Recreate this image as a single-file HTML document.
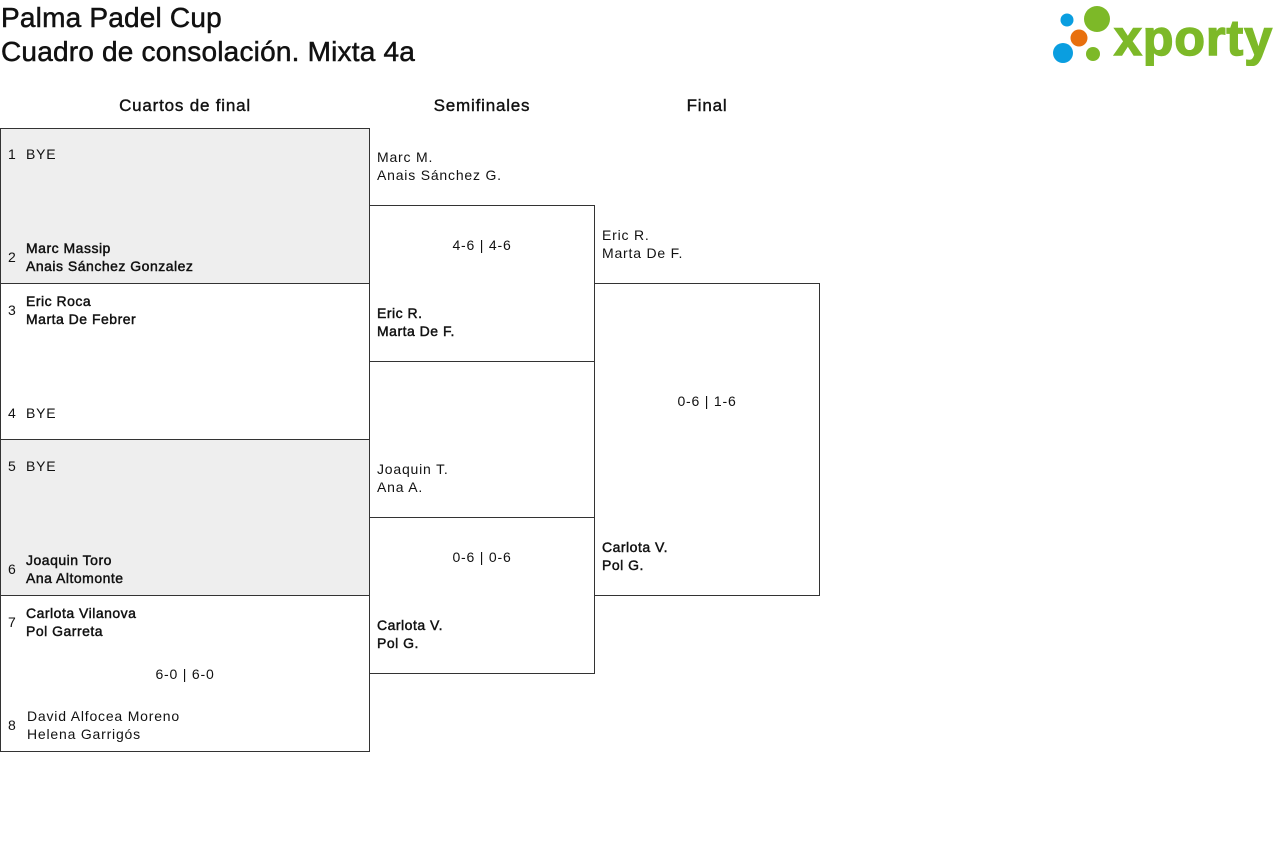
<!DOCTYPE html>
<html><head><meta charset="utf-8"><style>
body{margin:0;width:1280px;height:850px;background:#fff;font-family:"Liberation Sans",sans-serif;color:#111;position:relative;overflow:hidden}
.a{position:absolute}
.t{font-size:28px;line-height:33px;left:1px;white-space:nowrap;-webkit-text-stroke:0.5px #111;letter-spacing:0.2px}
.h{font-size:17px;text-align:center;letter-spacing:0.8px;-webkit-text-stroke:0.4px #111}
.box{position:absolute;border:1px solid #333;box-sizing:border-box}
.g{background:#eee}
.s{position:absolute;font-size:14px;line-height:18px;white-space:nowrap;letter-spacing:0.8px}
.b{-webkit-text-stroke:0.45px #111;letter-spacing:0.5px}
</style></head><body>
<div class="a t" style="top:1px">Palma Padel Cup</div>
<div class="a t" style="top:35px">Cuadro de consolación. Mixta 4a</div>
<svg class="a" style="left:1050px;top:4px" width="226" height="62">
<circle cx="17" cy="16" r="6.5" fill="#0a9ee0"/><circle cx="47" cy="15" r="13" fill="#7db928"/>
<circle cx="29" cy="34" r="8.5" fill="#e8700e"/><circle cx="13" cy="49" r="10" fill="#0a9ee0"/><circle cx="43" cy="50" r="7" fill="#7db928"/>
<text x="64" y="51" font-family="Liberation Sans" font-weight="bold" font-size="50" fill="#7db928" stroke="#7db928" stroke-width="1.5" textLength="158">xporty</text></svg>
<div class="a h" style="left:0;width:370px;top:96px">Cuartos de final</div>
<div class="a h" style="left:369px;width:226px;top:96px">Semifinales</div>
<div class="a h" style="left:594px;width:226px;top:96px">Final</div>

<div class="box g" style="left:0;top:128px;width:370px;height:156px"></div>
<div class="box" style="left:0;top:283px;width:370px;height:157px"></div>
<div class="box g" style="left:0;top:439px;width:370px;height:157px"></div>
<div class="box" style="left:0;top:595px;width:370px;height:157px"></div>
<div class="box" style="left:369px;top:205px;width:226px;height:157px"></div>
<div class="box" style="left:369px;top:517px;width:226px;height:157px"></div>
<div class="box" style="left:594px;top:283px;width:226px;height:313px"></div>

<div class="s" style="left:8px;top:145px">1&nbsp;&nbsp;BYE</div>
<div class="s" style="left:8px;top:248px">2</div><div class="s b" style="left:26px;top:239px">Marc Massip<br>Anais Sánchez Gonzalez</div>
<div class="s" style="left:8px;top:301px">3</div><div class="s b" style="left:26px;top:292px">Eric Roca<br>Marta De Febrer</div>
<div class="s" style="left:8px;top:404px">4&nbsp;&nbsp;BYE</div>
<div class="s" style="left:8px;top:457px">5&nbsp;&nbsp;BYE</div>
<div class="s" style="left:8px;top:560px">6</div><div class="s b" style="left:26px;top:551px">Joaquin Toro<br>Ana Altomonte</div>
<div class="s" style="left:8px;top:613px">7</div><div class="s b" style="left:26px;top:604px">Carlota Vilanova<br>Pol Garreta</div>
<div class="s" style="left:0;width:370px;text-align:center;top:665px">6-0 | 6-0</div>
<div class="s" style="left:8px;top:716px">8</div><div class="s" style="left:27px;top:707px">David Alfocea Moreno<br>Helena Garrigós</div>

<div class="s" style="left:377px;top:148px">Marc M.<br>Anais Sánchez G.</div>
<div class="s" style="left:369px;width:226px;text-align:center;top:236px">4-6 | 4-6</div>
<div class="s b" style="left:377px;top:304px">Eric R.<br>Marta De F.</div>
<div class="s" style="left:377px;top:460px">Joaquin T.<br>Ana A.</div>
<div class="s" style="left:369px;width:226px;text-align:center;top:548px">0-6 | 0-6</div>
<div class="s b" style="left:377px;top:616px">Carlota V.<br>Pol G.</div>

<div class="s" style="left:602px;top:226px">Eric R.<br>Marta De F.</div>
<div class="s" style="left:594px;width:226px;text-align:center;top:392px">0-6 | 1-6</div>
<div class="s b" style="left:602px;top:538px">Carlota V.<br>Pol G.</div>
</body></html>
